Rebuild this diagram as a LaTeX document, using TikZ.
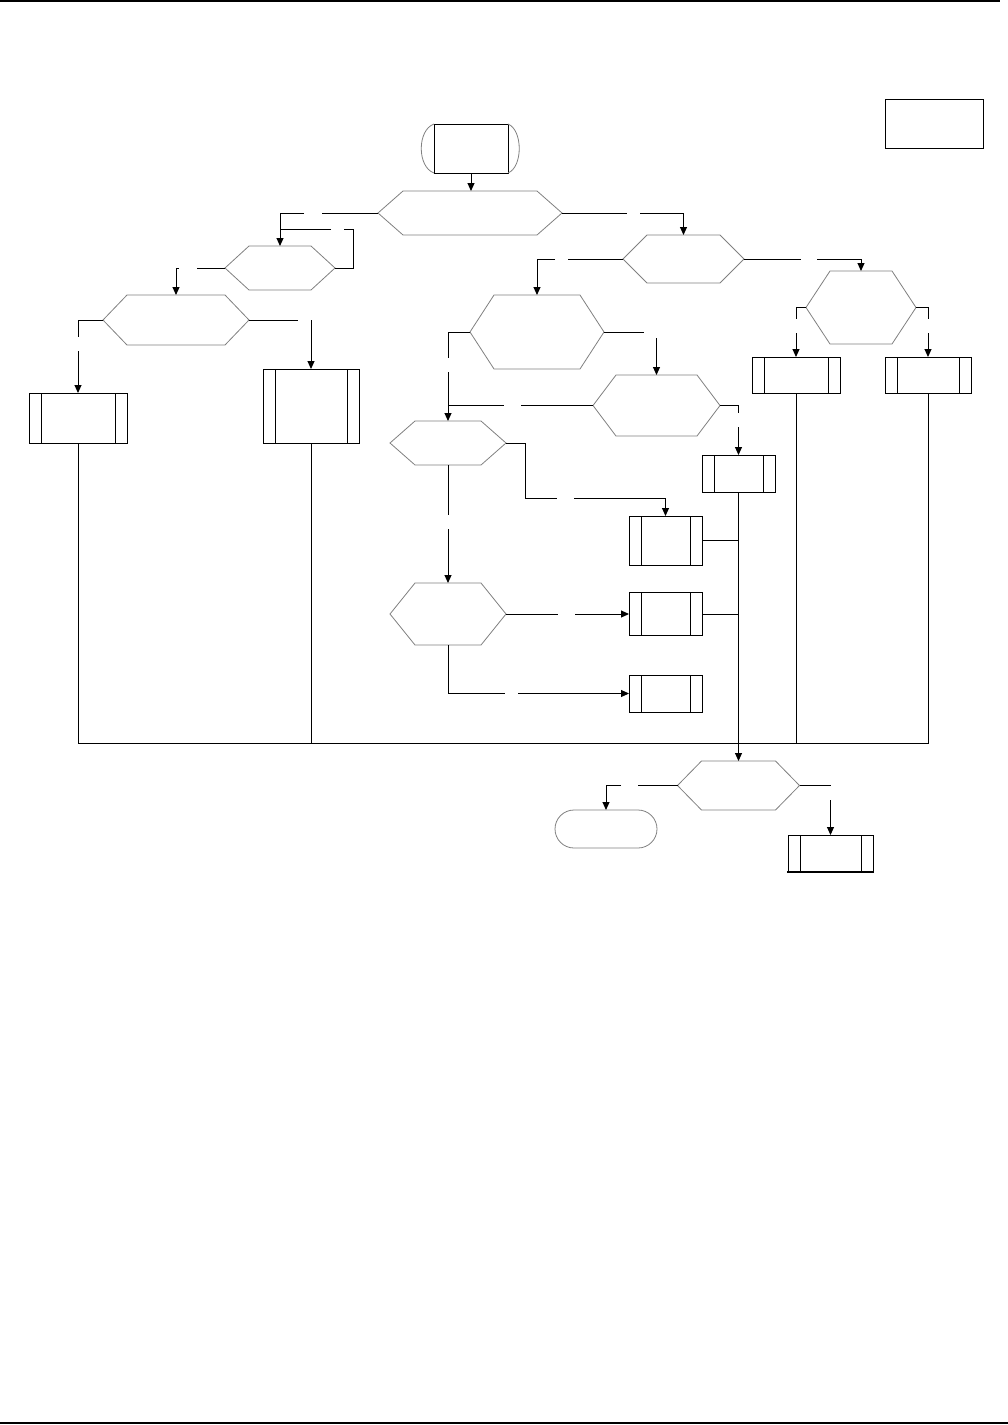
\documentclass[tikz,border=0pt]{standalone}
\usetikzlibrary{arrows.meta,calc}
\tikzset{
  hexa/.style={rectangle,inner sep=0pt,outer sep=0pt,draw=none},
  hexline/.style={draw=black!50,line width=0.8pt,line join=miter},
  pbox/.style={rectangle,draw=black,line width=1pt,inner sep=0pt,outer sep=0pt},
  boxline/.style={draw=black,line width=1pt},
  conn/.style={draw=black,line width=1pt},
  arr/.style={conn,-{Triangle[length=8pt,width=7pt]}},
  term/.style={rectangle,draw=black!50,line width=0.8pt,rounded corners=19pt,inner sep=0pt,outer sep=0pt}
}
\newcommand{\hexn}[6]{%
  \node[hexa,minimum width=#4pt,minimum height=#5pt] (#1) at (#2,#3) {};
  \draw[hexline] (#1.west) -- ([xshift=#6pt]#1.north west) -- ([xshift=-#6pt]#1.north east) -- (#1.east) -- ([xshift=-#6pt]#1.south east) -- ([xshift=#6pt]#1.south west) -- cycle;
}
\newcommand{\pboxn}[5]{%
  \node[pbox,minimum width=#4pt,minimum height=#5pt] (#1) at (#2,#3) {};
  \draw[boxline] ([xshift=12pt]#1.north west) -- ([xshift=12pt]#1.south west)
                 ([xshift=-12pt]#1.north east) -- ([xshift=-12pt]#1.south east);
}
\begin{document}
\begin{tikzpicture}[x=1pt,y=-1pt]
\useasboundingbox (0,0) rectangle (1008,1425);
% page rules
\draw[line width=1.2pt] (0,1) -- (1000,1);
\draw[line width=1.2pt] (0,1423) -- (1008,1423);
% top-right box
\node[pbox,minimum width=98pt,minimum height=49pt] (TR) at (934,123.5) {};
% start
\node[pbox,minimum width=74pt,minimum height=49pt] (S) at (471,148.5) {};
\draw[hexline] (S.north west) .. controls +(-17,6) and +(-17,-6) .. (S.south west);
\draw[hexline] (S.north east) .. controls +(15,6) and +(15,-6) .. (S.south east);
% decisions
\hexn{D1}{470}{213}{184}{44}{25}
\hexn{D2}{280}{268}{110}{44}{24}
\hexn{D3}{176}{320}{146}{50}{24}
\hexn{D4}{683.5}{259}{121}{48}{24}
\hexn{D5}{537}{332}{134}{74}{24}
\hexn{D6}{861}{307.5}{110}{73}{24}
\hexn{D7}{448}{443}{116}{44}{25}
\hexn{D8}{656.5}{405.5}{127}{61}{23}
\hexn{D9}{448}{614}{116}{62}{25}
\hexn{D10}{738.5}{785.5}{122}{49}{24}
% processes
\pboxn{B1}{78}{418}{98}{50}
\pboxn{B2}{311}{406}{96}{74}
\pboxn{B3}{796}{375}{88}{36}
\pboxn{B4}{928}{375}{86}{36}
\pboxn{B5}{738.5}{473.5}{73}{37}
\pboxn{B6}{665.5}{540.5}{73}{49}
\pboxn{B7}{665.5}{614}{73}{43}
\pboxn{B8}{665.5}{693.5}{73}{37}
\pboxn{B9}{830.5}{853.5}{85}{37}
\draw[line width=2pt] ([xshift=-1pt]B9.south west) -- (B9.south east);
% end terminal
\node[term,minimum width=102pt,minimum height=38pt] (T2) at (606,829) {};
% connectors
\draw[arr] (S.south) -- (S.south |- D1.north);
% D1 left
\coordinate (c1a) at (322,213); \coordinate (c1b) at (304,213);
\draw[conn] (D1.west) -- (c1a);
\draw[arr] (c1b) -| (D2.north);
% loop back to D2
\coordinate (c2a) at (353,229); \coordinate (c2b) at (344,229); \coordinate (c2c) at (331,229);
\draw[conn] (D2.east) -| (c2a) -- (c2b);
\draw[conn] (c2c) -- (D2.north |- c2c);
% D2 left
\coordinate (c3a) at (197,268); \coordinate (c3b) at (179,268);
\draw[conn] (D2.west) -- (c3a);
\draw[arr] (c3b) -| (D3.north);
% D3 left
\coordinate (c4a) at (78,337); \coordinate (c4b) at (78,351);
\draw[conn] (D3.west) -| (c4a);
\draw[arr] (c4b) -- (B1.north);
% D3 right
\coordinate (c5a) at (298,320); \coordinate (c5b) at (311,320);
\draw[conn] (D3.east) -- (c5a);
\draw[arr] (c5b) -- (B2.north);
% bus
\coordinate (busL) at (78,743); \coordinate (busR) at (928,743);
\draw[conn] (B1.south) -- (busL) -- (busR) -- (B4.south);
\draw[conn] (B2.south) -- (B2.south |- busL);
\draw[conn] (B3.south) -- (B3.south |- busL);
% D1 right
\coordinate (c6a) at (627,213); \coordinate (c6b) at (640,213);
\draw[conn] (D1.east) -- (c6a);
\draw[arr] (c6b) -| (D4.north);
% D4 left
\coordinate (c7a) at (568,259); \coordinate (c7b) at (555,259);
\draw[conn] (D4.west) -- (c7a);
\draw[arr] (c7b) -| (D5.north);
% D4 right
\coordinate (c8a) at (801,259); \coordinate (c8b) at (817,259);
\draw[conn] (D4.east) -- (c8a);
\draw[arr] (c8b) -| (D6.north);
% D6 left
\coordinate (c9a) at (796,319); \coordinate (c9b) at (796,333);
\draw[conn] (D6.west) -| (c9a);
\draw[arr] (c9b) -- (B3.north);
% D6 right
\coordinate (c10a) at (928,319); \coordinate (c10b) at (928,333);
\draw[conn] (D6.east) -| (c10a);
\draw[arr] (c10b) -- (B4.north);
% D5 left
\coordinate (c11a) at (448,358); \coordinate (c11b) at (448,372);
\draw[conn] (D5.west) -| (c11a);
\draw[arr] (c11b) -- (D7.north);
\coordinate (c12a) at (448,405.5); \coordinate (c12b) at (504,405.5); \coordinate (c12c) at (521,405.5);
\draw[conn] (c12a) -- (c12b);
\draw[conn] (c12c) -- (D8.west);
% D5 right
\coordinate (c13a) at (644,332); \coordinate (c13b) at (656.5,338);
\draw[conn] (D5.east) -- (c13a);
\draw[arr] (c13b) -- (D8.north);
% D8 right
\coordinate (c14a) at (738.5,413); \coordinate (c14b) at (738.5,427);
\draw[conn] (D8.east) -| (c14a);
\draw[arr] (c14b) -- (B5.north);
% B5 to D10
\draw[arr] (B5.south) -- (D10.north);
% D7 right
\coordinate (c15a) at (525,498); \coordinate (c15b) at (557,498); \coordinate (c15c) at (574,498);
\draw[conn] (D7.east) -| (c15a) -- (c15b);
\draw[arr] (c15c) -| (B6.north);
% B6, B7 into main line
\draw[conn] (B6.east) -- (B6.east -| B5.south);
\draw[conn] (B7.east) -- (B7.east -| B5.south);
% D7 bottom
\coordinate (c16a) at (448,515); \coordinate (c16b) at (448,529);
\draw[conn] (D7.south) -- (c16a);
\draw[arr] (c16b) -- (D9.north);
% D9 right
\coordinate (c17a) at (558,614); \coordinate (c17b) at (575,614);
\draw[conn] (D9.east) -- (c17a);
\draw[arr] (c17b) -- (B7.west);
% D9 bottom
\coordinate (c18a) at (505,693.5); \coordinate (c18b) at (518,693.5);
\draw[conn] (D9.south) |- (c18a);
\draw[arr] (c18b) -- (B8.west);
% D10 left
\coordinate (c19a) at (638,785.5); \coordinate (c19b) at (621,785.5);
\draw[conn] (D10.west) -- (c19a);
\draw[arr] (c19b) -| (T2.north);
% D10 right
\coordinate (c20a) at (830.5,785.5); \coordinate (c20b) at (830.5,800);
\draw[conn] (D10.east) -- (c20a);
\draw[arr] (c20b) -- (B9.north);
\end{tikzpicture}
\end{document}
